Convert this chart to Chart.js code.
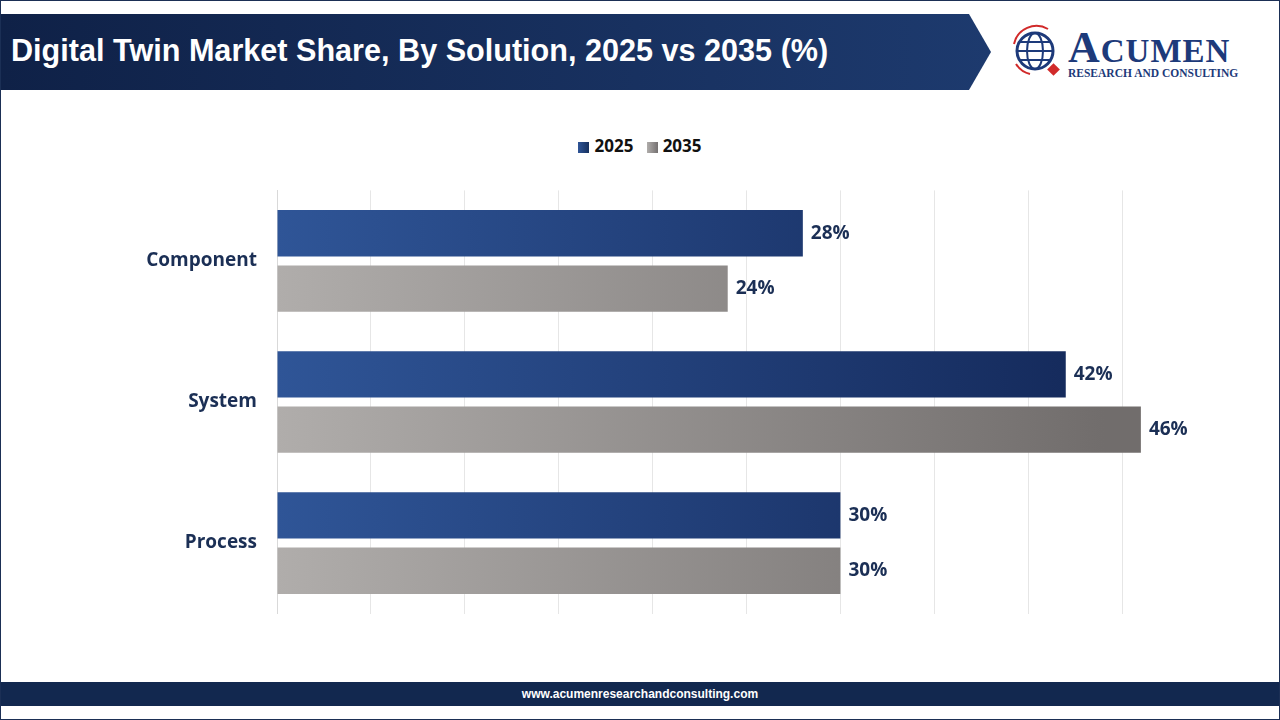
<!DOCTYPE html>
<html><head><meta charset="utf-8">
<script src="https://cdn.jsdelivr.net/npm/chart.js@4"></script>
<style>
body{margin:0;width:1280px;height:720px;background:#fff;font-family:"Open Sans",Arial,sans-serif;position:relative;overflow:hidden}
#frame{position:absolute;left:0;top:0;width:1278px;height:718px;border:1px solid #1b2f55}
#hdr{position:absolute;left:1px;top:14px;width:990px;height:76px;background:linear-gradient(90deg,#0f2147,#1d3a6e);clip-path:polygon(0 0,968px 0,990px 38px,968px 76px,0 76px)}
#hdr span{position:absolute;left:10px;top:19px;color:#fff;font:bold 30.6px Arial,"Liberation Sans",sans-serif}
#logo{position:absolute;left:1008px;top:24px}
#lg1{position:absolute;left:1068px;top:22px;font:bold 44px "Liberation Serif",serif;color:#1d3a7a;letter-spacing:1px}
#lg1 small{font-size:33px}
#lg2{position:absolute;left:1068px;top:67px;font:bold 11.5px "Liberation Serif",serif;color:#1d3a7a}
#foot{position:absolute;left:1px;top:682px;width:1278px;height:24px;background:#12284f;color:#fff;text-align:center;font:bold 12px Arial,sans-serif;line-height:24px}
#legend{position:absolute;top:134px;left:0;width:1280px;text-align:center;font:bold 17px "Open Sans",sans-serif;color:#111}
#legend i{display:inline-block;width:11px;height:11px;margin:0 5px 0 0;vertical-align:-1px}
#wrap{position:absolute;left:100px;top:167px;width:1116px;height:470px}
</style></head><body>
<div id="frame"></div>
<div id="hdr"><span>Digital Twin Market Share, By Solution, 2025 vs 2035 (%)</span></div>
<svg id="logo" width="58" height="58" viewBox="0 0 58 58"><circle cx="27" cy="27" r="18" fill="none" stroke="#1d3a7a" stroke-width="3"/><ellipse cx="27" cy="27" rx="8" ry="18" fill="none" stroke="#1d3a7a" stroke-width="2"/><line x1="9" y1="27" x2="45" y2="27" stroke="#1d3a7a" stroke-width="2"/><line x1="12" y1="18" x2="42" y2="18" stroke="#1d3a7a" stroke-width="2"/><line x1="12" y1="36" x2="42" y2="36" stroke="#1d3a7a" stroke-width="2"/><path d="M6 20 A23 23 0 0 1 40 5" fill="none" stroke="#d12a2a" stroke-width="2"/><path d="M8 40 A23 23 0 0 0 22 50" fill="none" stroke="#d12a2a" stroke-width="2"/><rect x="41" y="41" width="9" height="9" fill="#d12a2a" transform="rotate(45 45.5 45.5)"/></svg>
<div id="lg1">A<small>CUMEN</small></div>
<div id="lg2">RESEARCH AND CONSULTING</div>
<div id="legend"><i style="background:linear-gradient(90deg,#2f5597,#16305e)"></i>2025 &nbsp;&nbsp;<i style="background:linear-gradient(90deg,#b0adab,#757171)"></i>2035</div>
<div id="wrap"><canvas id="c"></canvas></div>
<div id="foot">www.acumenresearchandconsulting.com</div>
<script>
const categories=["Component","System","Process"];
const values2025=[28,42,30];
const values2035=[24,46,30];
function grad(c0,c1){return ctx=>{const a=ctx.chart.chartArea;if(!a)return c1;const g=ctx.chart.ctx.createLinearGradient(a.left,0,a.right*0.9,0);g.addColorStop(0,c0);g.addColorStop(1,c1);return g;}}
const labelPlugin={id:'lbl',afterDatasetsDraw(ch){const c=ch.ctx;c.save();c.font='bold 19px "Open Sans",sans-serif';c.fillStyle='#1b2f55';c.textBaseline='middle';ch.data.datasets.forEach((d,i)=>{ch.getDatasetMeta(i).data.forEach((b,j)=>{c.fillText(d.data[j]+'%',b.x+8,b.y);});});c.restore();}};
new Chart(document.getElementById('c'),{type:'bar',
data:{labels:categories,datasets:[
{label:'2025',data:values2025,backgroundColor:grad('#2f5597','#14295a')},
{label:'2035',data:values2035,backgroundColor:grad('#b0adab','#716d6c')}]},
options:{indexAxis:'y',responsive:true,maintainAspectRatio:false,animation:false,
categoryPercentage:0.785,barPercentage:0.836,layout:{padding:0},
plugins:{legend:{display:false},tooltip:{enabled:false}},
scales:{x:{min:0,max:50,ticks:{display:false,stepSize:5},border:{display:false},grid:{color:'#e6e6e6',drawTicks:false}},
y:{afterFit(s){s.width=177},grid:{display:false},border:{color:'#d9d9d9'},ticks:{color:'#1b2f55',font:{size:19,weight:'bold',family:'"Open Sans",sans-serif'},padding:12}}}},
plugins:[labelPlugin]});
</script></body></html>
